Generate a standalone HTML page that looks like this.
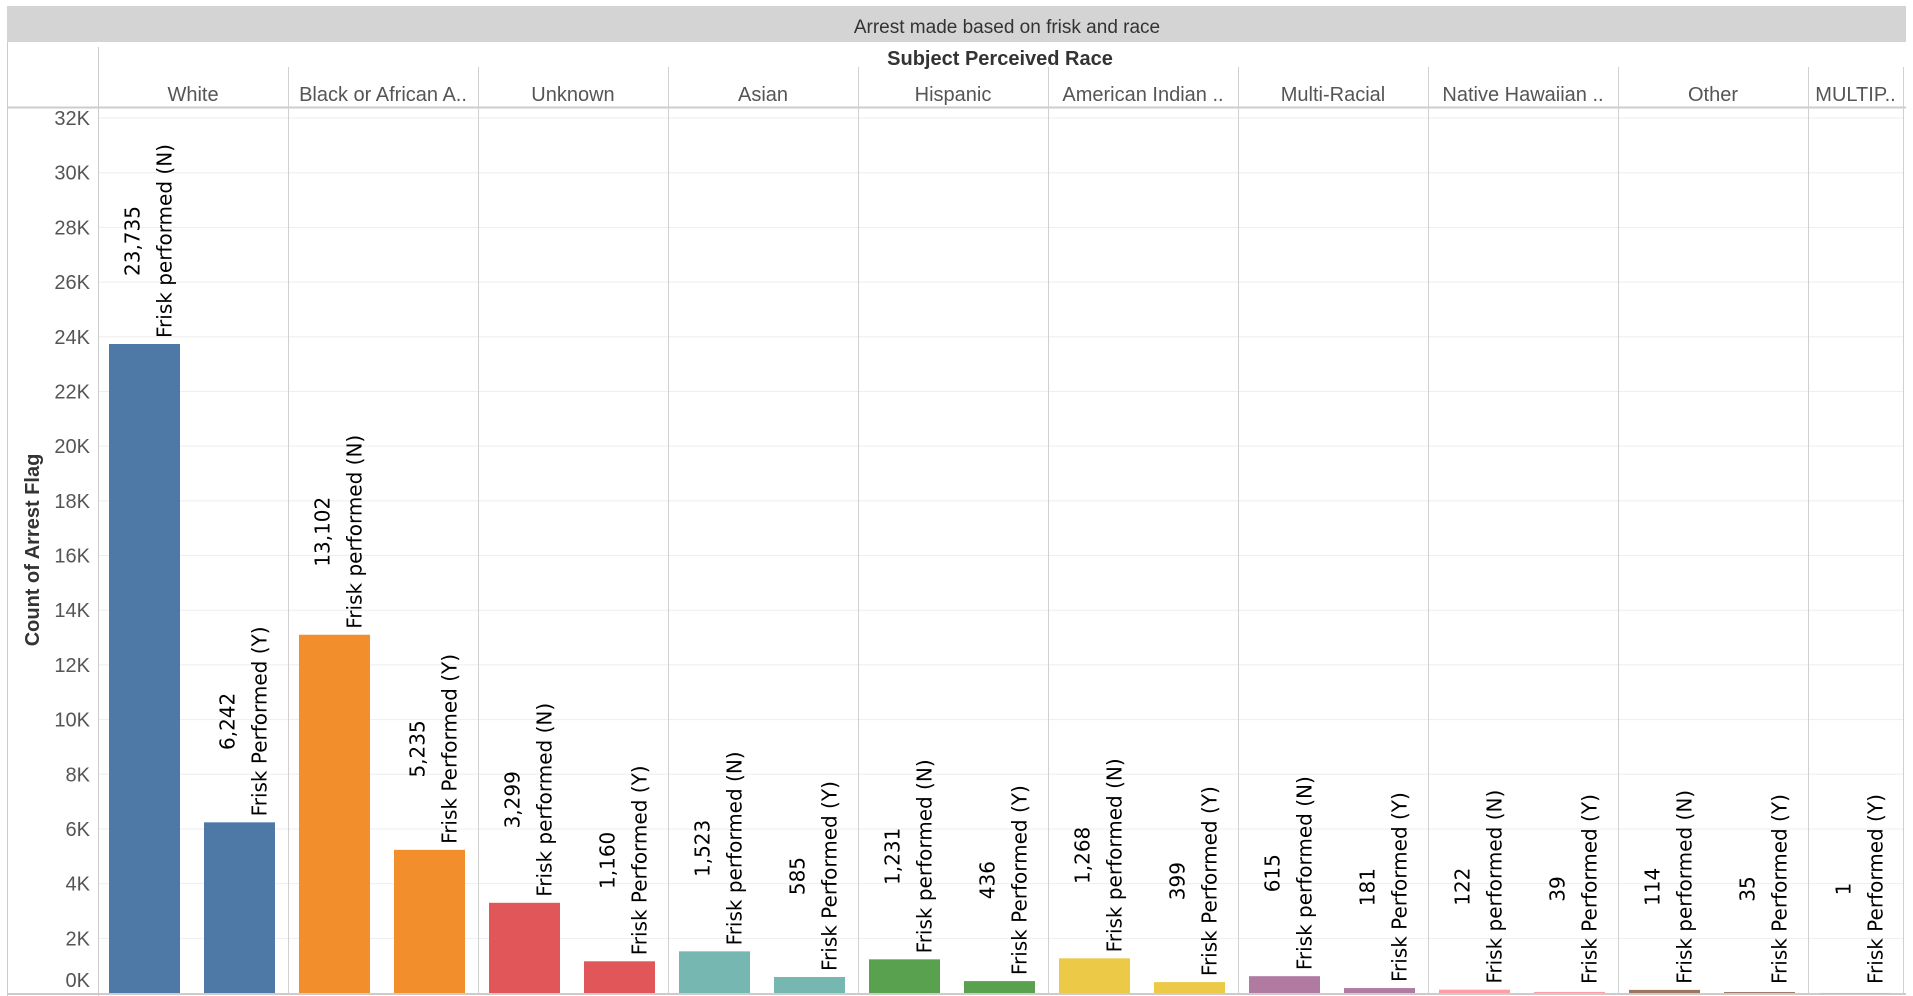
<!DOCTYPE html>
<html><head><meta charset="utf-8">
<style>
html,body{margin:0;padding:0;background:#fff;width:1913px;height:996px;overflow:hidden}
svg{display:block}
.hdr{font-family:"Liberation Sans Narrow","Liberation Sans",sans-serif;fill:#555;font-size:20px}
.lbl{font-family:"DejaVu Sans","Liberation Sans",sans-serif;font-size:20px;fill:#000}
</style></head>
<body>
<svg id="chart" width="1913" height="996">
  <rect x="7" y="6" width="1899" height="36" fill="#d4d4d4"/>
  <text x="1007" y="33" text-anchor="middle" class="hdr" style="fill:#333;font-size:19px">Arrest made based on frisk and race</text>
  <line x1="7.5" y1="42" x2="7.5" y2="996" stroke="#ccc"/>
  <line x1="98.5" y1="47" x2="98.5" y2="996" stroke="#ccc"/>
  <text x="1000" y="65" text-anchor="middle" class="hdr" style="fill:#333;font-weight:bold;font-size:20px">Subject Perceived Race</text>
  <line x1="7" y1="107.5" x2="1906" y2="107.5" stroke="#ccc" stroke-width="2"/>
  <line x1="7" y1="994" x2="1906" y2="994" stroke="#ccc" stroke-width="2"/>
  <text transform="translate(39,550) rotate(-90)" text-anchor="middle" class="hdr" style="fill:#333;font-weight:bold;font-size:20px">Count of Arrest Flag</text>
  <g id="grid"></g><g id="cols"></g><g id="bars"></g>
</svg>
<script>
const categories=["White","Black or African A..","Unknown","Asian","Hispanic","American Indian ..","Multi-Racial","Native Hawaiian ..","Other","MULTIP.."];
const valuesN=[23735,13102,3299,1523,1231,1268,615,122,114,null];
const valuesY=[6242,5235,1160,585,436,399,181,39,35,1];
const colors=["#4e79a7","#f28e2b","#e15759","#76b7b2","#59a14f","#edc948","#b07aa1","#ff9da7","#9c755f","#bab0ac"];
const yTicks=[0,2000,4000,6000,8000,10000,12000,14000,16000,18000,20000,22000,24000,26000,28000,30000,32000];
const yTickLabels=["0K","2K","4K","6K","8K","10K","12K","14K","16K","18K","20K","22K","24K","26K","28K","30K","32K"];
const NS="http://www.w3.org/2000/svg";
const y0=993, yMax=32000, yTop=118;
function y(v){return y0-(v/yMax)*(y0-yTop);}
const colW=190, left=98;
function colX(i){return left+i*colW;}
function mk(tag,attrs,parent){const e=document.createElementNS(NS,tag);for(const k in attrs)e.setAttribute(k,attrs[k]);parent.appendChild(e);return e;}
const grid=document.getElementById('grid'),cols=document.getElementById('cols'),bars=document.getElementById('bars');
yTicks.forEach((t,i)=>{
  const gy=y(t);
  if(t>0){const l=mk('line',{x1:99,x2:1903,y1:gy,y2:gy,stroke:'#eeeeee'},grid);
  
  }
  const tx=mk('text',{x:90,y:(t===0?y0-6:gy+7),'text-anchor':'end',class:'hdr'},grid);
  tx.textContent=yTickLabels[i];
  
  
});
categories.forEach((c,i)=>{
  const x=colX(i);
  const w=(i===categories.length-1)?95:colW;
  if(i>0){const l=mk('line',{x1:x+0.5,x2:x+0.5,y1:67,y2:994,stroke:'#d0d0d0'},cols);
  
  }
  const t=mk('text',{x:x+w/2,y:101,'text-anchor':'middle',class:'hdr'},cols);
  t.textContent=c;
  
  
});
mk('line',{x1:1903.5,x2:1903.5,y1:67,y2:994,stroke:'#d0d0d0'},cols);
function bar(i,v,slot,desc){
  if(v===null)return;
  let bx;
  if(i===categories.length-1) bx=colX(i)+12;
  else bx=colX(i)+(slot===0?11:106);
  const bw=71, top=y(v);
  const r=mk('rect',{x:bx,y:top,width:bw,height:Math.max(y0-top,0.5),fill:colors[i]},bars);
  
  
  const cx=bx+bw/2, base=Math.min(top,y0-3)-6;
  const d=mk('text',{class:'lbl','text-anchor':'start',transform:`translate(${cx+27},${base}) rotate(-90)`},bars);
  d.textContent=desc;
  
  
  const len=d.getComputedTextLength();
  const vt=mk('text',{class:'lbl','text-anchor':'middle',transform:`translate(${cx-5},${base-len/2}) rotate(-90)`},bars);
  vt.textContent=v.toLocaleString('en-US');
  
  
}
categories.forEach((c,i)=>{
  bar(i,valuesN[i],0,"Frisk performed (N)");
  bar(i,valuesY[i],1,"Frisk Performed (Y)");
});
</script>
</body></html>
